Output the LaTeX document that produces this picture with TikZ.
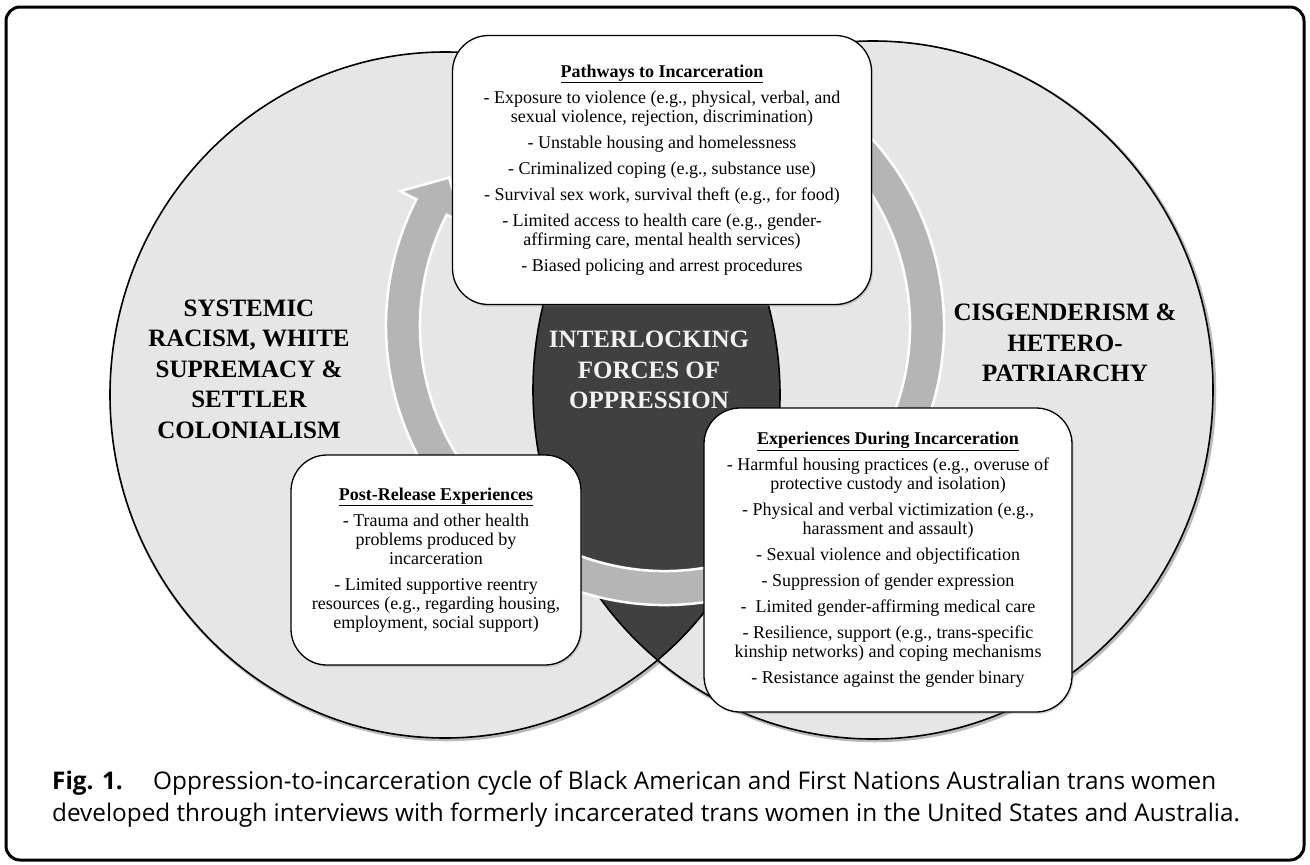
\documentclass[tikz,border=0pt]{standalone}
\usepackage{fontspec}
\setmainfont{Liberation Serif}
\newfontfamily\capfont{Open Sans}
\usetikzlibrary{calc,shadows}
\definecolor{ringfill}{HTML}{E6E6E6}
\definecolor{lensfill}{HTML}{404040}
\definecolor{bandfill}{HTML}{B5B5B5}
\definecolor{lenstext}{HTML}{F2F2F2}
\begin{document}
\begin{tikzpicture}[x=1pt,y=-1pt,
  infobox/.style={draw=black, line width=1.3pt, fill=white, rounded corners=36pt,
    align=center, inner sep=0pt, font=\fontsize{18}{19}\selectfont,
    drop shadow={shadow xshift=1.5pt, shadow yshift=-2pt, opacity=0.3}},
  bigtext/.style={align=center, inner sep=0pt, font=\fontsize{25}{30.5}\selectfont\bfseries},
  ringline/.style={draw=black, line width=1.6pt},
  ringshadow/.style={draw=black!45, line width=3.5pt, opacity=0.6}]
\fill[white] (0,0) rectangle (1310,865);
\path[use as bounding box] (0,0) rectangle (1310,865);
\draw[line width=3pt, rounded corners=14pt] (6,7) rectangle (1304,860);
% rings
\coordinate (LC) at (445,395);
\coordinate (RC) at (873,390);
\coordinate (AC) at (665,326);
\draw[ringshadow] ($(LC)+(1.5,1.5)$) ellipse[x radius=335, y radius=343];
\draw[ringshadow] ($(RC)+(1.5,1.5)$) ellipse[x radius=340, y radius=349];
\fill[ringfill] (LC) ellipse[x radius=335, y radius=343];
\fill[ringfill] (RC) ellipse[x radius=340, y radius=349];
\begin{scope}
  \clip (LC) ellipse[x radius=335, y radius=343];
  \fill[lensfill] (RC) ellipse[x radius=340, y radius=349];
\end{scope}
\draw[ringline] (LC) ellipse[x radius=335, y radius=343];
\draw[ringline] (RC) ellipse[x radius=340, y radius=349];
% cycle arrow
\path[fill=bandfill, draw=white, line width=2.5pt, line join=miter]
  ($(AC)+(-60:279)$) arc[start angle=-60, end angle=207, radius=279]
  -- ($(AC)+(207:297)$) -- ($(AC)+(214.5:262)$) -- ($(AC)+(207:227)$)
  -- ($(AC)+(207:245)$) arc[start angle=207, end angle=-60, radius=245] -- cycle;
% big labels
\node[bigtext] (sys) at (249,369) {SYSTEMIC\\RACISM, WHITE\\SUPREMACY \&\\SETTLER\\COLONIALISM};
\node[bigtext] (cis) at (1065,343) {CISGENDERISM \&\\HETERO-\\PATRIARCHY};
\node[bigtext, text=lenstext] (ifo) at (649,370) {INTERLOCKING\\FORCES OF\\OPPRESSION};
% boxes
\node[infobox, minimum width=419pt, minimum height=269pt] (path) at (662,170)
  {\textbf{\underline{Pathways to Incarceration}}\\[7pt]
   - Exposure to violence (e.g., physical, verbal, and\\
   sexual violence, rejection, discrimination)\\[7pt]
   - Unstable housing and homelessness\\[7pt]
   - Criminalized coping (e.g., substance use)\\[7pt]
   - Survival sex work, survival theft (e.g., for food)\\[7pt]
   - Limited access to health care (e.g., gender-\\
   affirming care, mental health services)\\[7pt]
   - Biased policing and arrest procedures};
\node[infobox, minimum width=290pt, minimum height=210pt] (post) at (436,560)
  {\textbf{\underline{Post-Release Experiences}}\\[7pt]
   - Trauma and other health\\
   problems produced by\\
   incarceration\\[7pt]
   - Limited supportive reentry\\
   resources (e.g., regarding housing,\\
   employment, social support)};
\node[infobox, minimum width=368pt, minimum height=304pt] (during) at (888,560)
  {\textbf{\underline{Experiences During Incarceration}}\\[7pt]
   - Harmful housing practices (e.g., overuse of\\
   protective custody and isolation)\\[7pt]
   - Physical and verbal victimization (e.g.,\\
   harassment and assault)\\[7pt]
   - Sexual violence and objectification\\[7pt]
   - Suppression of gender expression\\[7pt]
   - \ Limited gender-affirming medical care\\[7pt]
   - Resilience, support (e.g., trans-specific\\
   kinship networks) and coping mechanisms\\[7pt]
   - Resistance against the gender binary};
% caption
\node[anchor=west, align=left, inner sep=0pt, font=\capfont\fontsize{24.3}{32.5}\selectfont] (cap) at (52,799)
  {\makebox[101pt][l]{\textbf{Fig. 1.}}Oppression-to-incarceration cycle of Black American and First Nations Australian trans women\\
   developed through interviews with formerly incarcerated trans women in the United States and Australia.};
\end{tikzpicture}
\end{document}
